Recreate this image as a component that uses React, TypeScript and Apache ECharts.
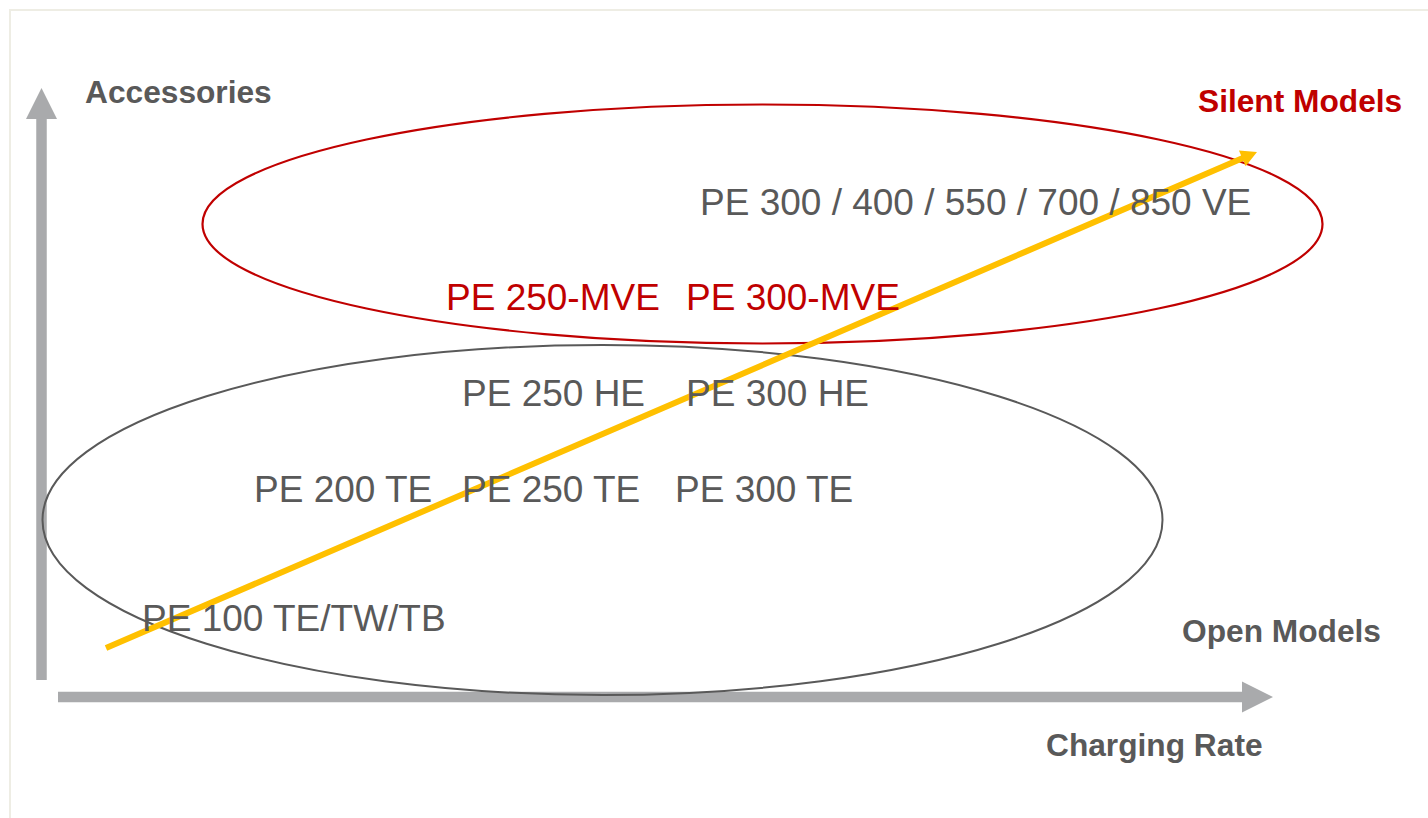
import React, { useEffect, useRef } from "react";
import * as echarts from "echarts";

// Canvas-space coordinates (x to the right, y downward), 1428 x 818
const modelNames = [
  "PE 300 / 400 / 550 / 700 / 850 VE",
  "PE 250 HE",
  "PE 300 HE",
  "PE 200 TE",
  "PE 250 TE",
  "PE 300 TE",
  "PE 100 TE/TW/TB",
];
const modelX = [700, 462, 686, 254, 462, 675, 142];
const modelY = [202, 393, 393, 489, 489, 489, 618];

const silentNames = ["PE 250-MVE", "PE 300-MVE"];
const silentX = [446, 686];
const silentY = [297, 297];

const titleNames = ["Accessories", "Silent Models", "Open Models", "Charging Rate"];
const titleX = [85, 1198, 1182, 1046];
const titleY = [92, 101, 631, 745];
const titleIsSilent = [false, true, false, false];

// ellipses: [centerX, centerY, radiusX, radiusY]
const silentEllipse = [762.5, 224, 560, 119.5];
const openEllipse = [602.5, 520, 560, 175];

// arrows: [x1, y1, x2, y2]
const axisArrows = [
  [41.5, 680, 41.5, 88],
  [58, 697, 1273, 697],
];
const trendArrow = [[106, 648, 1257, 152]];

const GRAY_TEXT = "#595959";
const RED = "#C00000";
const YELLOW = "#FFC000";
const AXIS_GRAY = "#A9AAAC";
const FONT = "'Liberation Sans', Arial, Helvetica, sans-serif";

function arrowRenderer(shaft: number, headLen: number, headW: number, color: string) {
  return (params: any, api: any) => {
    const p1 = api.coord([api.value(0), api.value(1)]);
    const p2 = api.coord([api.value(2), api.value(3)]);
    const dx = p2[0] - p1[0];
    const dy = p2[1] - p1[1];
    const len = Math.sqrt(dx * dx + dy * dy) || 1;
    const ux = dx / len;
    const uy = dy / len;
    const nx = -uy;
    const ny = ux;
    const bx = p2[0] - ux * headLen;
    const by = p2[1] - uy * headLen;
    const s = shaft / 2;
    const h = headW / 2;
    const points = [
      [p1[0] + nx * s, p1[1] + ny * s],
      [bx + nx * s, by + ny * s],
      [bx + nx * h, by + ny * h],
      [p2[0], p2[1]],
      [bx - nx * h, by - ny * h],
      [bx - nx * s, by - ny * s],
      [p1[0] - nx * s, p1[1] - ny * s],
    ];
    return { type: "polygon", shape: { points }, style: { fill: color, stroke: "none" } };
  };
}

function ellipseRenderer(color: string, width: number) {
  return (params: any, api: any) => {
    const c = api.coord([api.value(0), api.value(1)]);
    const sz = api.size([api.value(2), api.value(3)]);
    return {
      type: "ellipse",
      shape: { cx: c[0], cy: c[1], rx: Math.abs(sz[0]), ry: Math.abs(sz[1]) },
      style: { fill: "none", stroke: color, lineWidth: width },
    };
  };
}

export default function App() {
  const ref = useRef<HTMLDivElement>(null);
  useEffect(() => {
    if (!ref.current) return;
    const chart = echarts.init(ref.current, undefined, { renderer: "svg" });
    const labelStyle = (color: string, size: number, weight: string) => ({
      show: true,
      position: "right",
      distance: 0,
      formatter: "{b}",
      color,
      opacity: 1,
      fontSize: size,
      fontWeight: weight,
      fontFamily: FONT,
      align: "left",
      verticalAlign: "middle",
    });
    chart.setOption({
      animation: false,
      backgroundColor: "#ffffff",
      grid: { left: 0, right: 0, top: 0, bottom: 0 },
      xAxis: { type: "value", min: 0, max: 1428, show: false },
      yAxis: { type: "value", min: 0, max: 818, inverse: true, show: false },
      graphic: [
        {
          type: "rect",
          z: 0,
          shape: { x: 10, y: 10, width: 1440, height: 840 },
          style: { fill: "none", stroke: "#EEEDE4", lineWidth: 2 },
        },
      ],
      series: [
        {
          type: "custom",
          name: "axes",
          z: 1,
          renderItem: arrowRenderer(10.5, 31, 31, AXIS_GRAY),
          data: axisArrows,
          silent: true,
        },
        {
          type: "custom",
          name: "openEllipse",
          z: 2,
          renderItem: ellipseRenderer(GRAY_TEXT, 2),
          data: [openEllipse],
          silent: true,
        },
        {
          type: "custom",
          name: "silentEllipse",
          z: 2,
          renderItem: ellipseRenderer(RED, 2.2),
          data: [silentEllipse],
          silent: true,
        },
        {
          type: "custom",
          name: "trend",
          z: 3,
          renderItem: arrowRenderer(6, 16, 17, YELLOW),
          data: trendArrow,
          silent: true,
        },
        {
          type: "scatter",
          name: "open",
          z: 4,
          symbolSize: 0,
          itemStyle: { opacity: 1 },
          data: modelNames.map((n, i) => ({ name: n, value: [modelX[i], modelY[i]] })),
          label: labelStyle(GRAY_TEXT, 37, "normal"),
          silent: true,
        },
        {
          type: "scatter",
          name: "silent",
          z: 4,
          symbolSize: 0,
          itemStyle: { opacity: 1 },
          data: silentNames.map((n, i) => ({ name: n, value: [silentX[i], silentY[i]] })),
          label: labelStyle(RED, 37, "normal"),
          silent: true,
        },
        {
          type: "scatter",
          name: "titles",
          z: 4,
          symbolSize: 0,
          itemStyle: { opacity: 1 },
          data: titleNames.map((n, i) => ({
            name: n,
            value: [titleX[i], titleY[i]],
            label: { color: titleIsSilent[i] ? RED : GRAY_TEXT },
          })),
          label: labelStyle(GRAY_TEXT, 31.7, "bold"),
          silent: true,
        },
      ],
    });
    return () => chart.dispose();
  }, []);
  return (
    <div
      ref={ref}
      style={{ position: "absolute", left: 0, top: 0, width: 1428, height: 818 }}
    />
  );
}
